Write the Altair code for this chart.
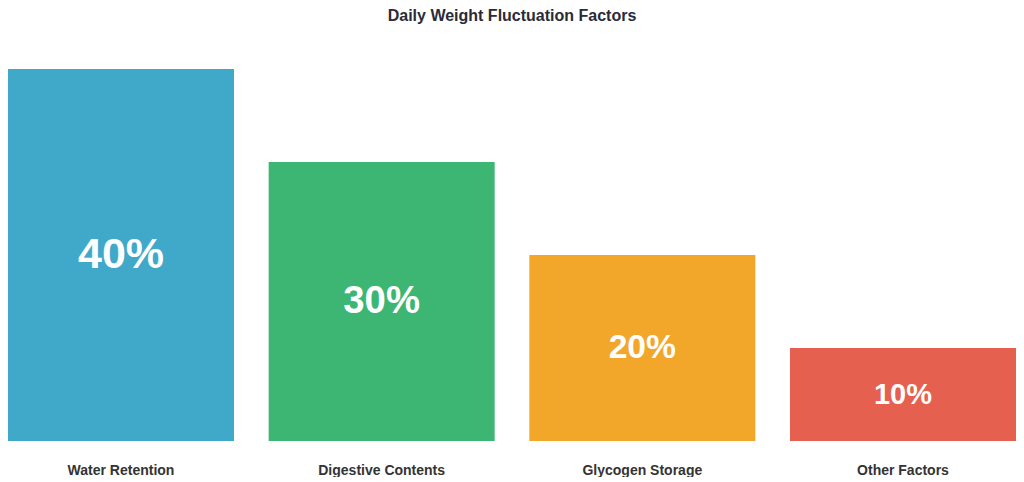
import altair as alt
import pandas as pd

# Share of daily weight fluctuation by factor (%)
factors = ["Water Retention", "Digestive Contents", "Glycogen Storage", "Other Factors"]
shares = [40, 30, 20, 10]
bar_colors = ["#40a9c9", "#3cb672", "#f2a72b", "#e5604f"]

df = pd.DataFrame({"factor": factors, "share": shares})

FONT = "Liberation Sans"

x_enc = alt.X(
    "factor:N",
    sort=factors,
    scale=alt.Scale(paddingInner=0.133, paddingOuter=0),
    axis=alt.Axis(
        title=None,
        labelAngle=0,
        ticks=False,
        domain=False,
        labelPadding=22,
        labelFont=FONT,
        labelFontSize=14,
        labelFontWeight="bold",
        labelColor="#333333",
    ),
)

base = alt.Chart(df)

bars = base.mark_bar().encode(
    x=x_enc,
    y=alt.Y("share:Q", scale=alt.Scale(domain=[0, 40]), axis=None),
    color=alt.Color(
        "factor:N",
        scale=alt.Scale(domain=factors, range=bar_colors),
        legend=None,
    ),
)

# percentage label in the middle of each bar, bigger for bigger shares
labels = base.transform_calculate(
    mid="datum.share / 2",
    txt="datum.share + '%'",
).mark_text(
    color="white",
    font=FONT,
    fontWeight="bold",
    align="center",
    baseline="middle",
).encode(
    x=x_enc,
    y=alt.Y("mid:Q", scale=alt.Scale(domain=[0, 40]), axis=None),
    text="txt:N",
    size=alt.Size(
        "share:Q",
        scale=alt.Scale(domain=[10, 40], range=[29, 43]),
        legend=None,
    ),
)

chart = (
    alt.layer(bars, labels)
    .properties(
        width=1008,
        height=372,
        padding=0,
        title=alt.TitleParams(
            "Daily Weight Fluctuation Factors",
            font=FONT,
            fontSize=16,
            fontWeight="bold",
            color="#2b2b38",
            anchor="middle",
            offset=45,
        ),
    )
    .configure_view(stroke=None)
)

chart.save("out.html", embed_options={"renderer": "svg", "actions": False})
